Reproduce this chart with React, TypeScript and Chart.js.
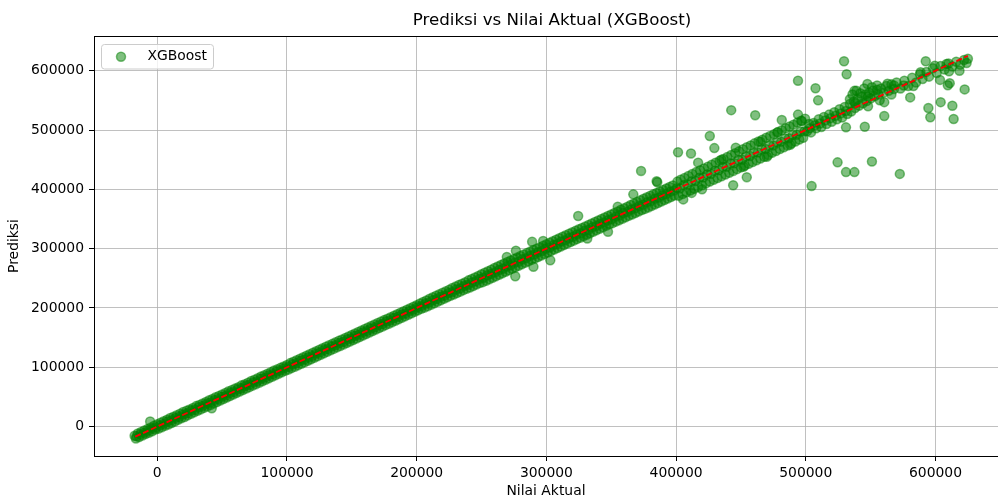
import React, { useEffect, useRef } from "react";
import { Chart, registerables } from "chart.js";

Chart.register(...registerables);

const TITLE = "Prediksi vs Nilai Aktual (XGBoost)";
const X_LABEL = "Nilai Aktual";
const Y_LABEL = "Prediksi";
const SERIES_NAME = "XGBoost";

const xTicks = [0, 100000, 200000, 300000, 400000, 500000, 600000];
const yTicks = [0, 100000, 200000, 300000, 400000, 500000, 600000];
const xRange = [-48800, 648200];
const yRange = [-49600, 658500];
const idealLine = [-17000, 625000];

// [actual, predicted]
const bandA: [number, number][] = [
  [-17500, -15500], [-16500, -20000], [-15000, -11500], [-14000, -17500], [-12500, -9000], [-11500, -15000],
  [-10000, -6500], [-9000, -12500], [-7500, -4000], [-6500, -10500], [-5500, 8500], [-5000, -1500],
  [-4000, -8000], [-2500, 1500], [-1500, -5000], [0, 4000], [1000, -3500], [2500, 6500], [3500, -1000],
  [5000, 9000], [6000, 1500], [7500, 11500], [8500, 3500], [10000, 14500], [11000, 6000], [12500, 16500],
  [13500, 8500], [15000, 19000], [16000, 11500], [17500, 21500], [18500, 14000], [20000, 24500],
  [21000, 16000], [22500, 26500], [23500, 19000], [25000, 29000], [26000, 21500], [27500, 31500],
  [28500, 24000], [30000, 34500], [31000, 26500], [32500, 36500], [33500, 29000], [35000, 39000],
  [36000, 31500], [37500, 41500], [38500, 34000], [40000, 44500], [41000, 36500], [42000, 31000],
  [42500, 46500], [43500, 39000], [45000, 49500], [46000, 41500], [47500, 51500], [48500, 44000],
  [50000, 54000], [51000, 46500], [52500, 56500], [53500, 49000], [55000, 59500], [56000, 51500],
  [57500, 61500], [58500, 54000], [60000, 64000], [61000, 56500], [62500, 66500], [63500, 59000],
  [65000, 69500], [66000, 61500], [67500, 71500], [68500, 64000], [70000, 74000], [71000, 66500],
  [72500, 77000], [73500, 69000], [75000, 79000], [76000, 71500], [77500, 81500], [78500, 74000],
  [80000, 84500], [81000, 76500], [82500, 86500], [83500, 79000], [85000, 89000], [86000, 81500],
  [87500, 91500], [88500, 84000], [90000, 94500], [91000, 86500], [92500, 96500], [93500, 89000],
  [95000, 99000], [96000, 91500], [97500, 101500], [98500, 94000], [100000, 104000],
];

const centerA: [number, number][] = [
  [-16000, -16500], [-13000, -13000], [-10000, -10500], [-7000, -7000], [-4000, -3500], [-1000, -1500],
  [2000, 2000], [5000, 4500], [8000, 8500], [11000, 10500], [14000, 14500], [17000, 16500], [20000, 20500],
  [23000, 22500], [26000, 26500], [29000, 28500], [32000, 32500], [35000, 34500], [38000, 38500],
  [41000, 40500], [44000, 44500], [47000, 46500], [50000, 50500], [53000, 52500], [56000, 56500],
  [59000, 58500], [62000, 62500], [65000, 64500], [68000, 68500], [71000, 70500], [74000, 74500],
  [77000, 76500], [80000, 80500], [83000, 82500], [86000, 86500], [89000, 88500], [92000, 92500],
  [95000, 94500], [98000, 98500],
];

const bandB: [number, number][] = [
  [101000, 96000], [102500, 107000], [103500, 98500], [105000, 109500], [106000, 101000], [107500, 112000],
  [108500, 103500], [110000, 114500], [111000, 106000], [112500, 117000], [113500, 108500], [115000, 119500],
  [116000, 111000], [117500, 122000], [118500, 113500], [120000, 124500], [121000, 116000], [122500, 127000],
  [123500, 118500], [125000, 129500], [126000, 121000], [127500, 132000], [128500, 123500], [130000, 134500],
  [131000, 126000], [132500, 137000], [133500, 128500], [135000, 139500], [136000, 131000], [137500, 142000],
  [138500, 133500], [140000, 144500], [141000, 136000], [142500, 147000], [143500, 138500], [145000, 149500],
  [146000, 141000], [147500, 152000], [148500, 143500], [150000, 154500], [151000, 146000], [152500, 157000],
  [153500, 148500], [155000, 159500], [156000, 151000], [157500, 162000], [158500, 153500], [160000, 164500],
  [161000, 156000], [162500, 167000], [163500, 158500], [165000, 169500], [166000, 161000], [167500, 172000],
  [168500, 163500], [170000, 174500], [171000, 166000], [172500, 177000], [173500, 168500], [175000, 179500],
  [176000, 171000], [177500, 182000], [178500, 173500], [180000, 184500], [181000, 176000], [182500, 187000],
  [183500, 178500], [185000, 189500], [186000, 181000], [187500, 192000], [188500, 183500], [190000, 194500],
  [191000, 186000], [192500, 197000], [193500, 188500], [195000, 199500], [196000, 191000], [197500, 202000],
  [198500, 193500], [200000, 204500], [201000, 196000], [202500, 207500], [203500, 198500], [205000, 210000],
  [206000, 200500], [207500, 212500], [208500, 203000], [210000, 215500], [211000, 205500], [212500, 218000],
  [213500, 208000], [215000, 220500], [216000, 210500], [217500, 223000], [218500, 213000], [220000, 225500],
  [221000, 215500], [222500, 228000], [223500, 218000], [225000, 230500], [226000, 220500], [227500, 233500],
  [228500, 222500], [230000, 236000], [231000, 225000], [232500, 238500], [233500, 227500], [235000, 241000],
  [236000, 230000], [237500, 243500], [238500, 232500], [240000, 246500], [241000, 234500], [242500, 249000],
  [243500, 237000], [245000, 251500], [246000, 239500], [247500, 254000], [248500, 242000],
];

const centerB: [number, number][] = [
  [101500, 101000], [104500, 105000], [107500, 107000], [110500, 111000], [113500, 113000], [116500, 117000],
  [119500, 119000], [122500, 123000], [125500, 125000], [128500, 129000], [131500, 131000], [134500, 135000],
  [137500, 137000], [140500, 141000], [143500, 143000], [146500, 147000], [149500, 149000], [152500, 153000],
  [155500, 155000], [158500, 159000], [161500, 161000], [164500, 165000], [167500, 167000], [170500, 171000],
  [173500, 173000], [176500, 177000], [179500, 179000], [182500, 183000], [185500, 185000], [188500, 189000],
  [191500, 191000], [194500, 195000], [197500, 197000], [200500, 201000], [203500, 203000], [206500, 207000],
  [209500, 209000], [212500, 213000], [215500, 215000], [218500, 219000], [221500, 221000], [224500, 225000],
  [227500, 227000], [230500, 231000], [233500, 233000], [236500, 237000], [239500, 239000], [242500, 243000],
  [245500, 245000], [248500, 249000],
];

const bandC: [number, number][] = [
  [250000, 257000], [251000, 243500], [252500, 259500], [253500, 246000], [255000, 262000], [256000, 248500],
  [257500, 264500], [258500, 251000], [260000, 267500], [261000, 253500], [262500, 270000], [263500, 256000],
  [265000, 272500], [266000, 258500], [267500, 275000], [268500, 261000], [270000, 277500], [271000, 263500],
  [272500, 280000], [273500, 266000], [275000, 282500], [276000, 268500], [277500, 285000], [278500, 271000],
  [280000, 287500], [281000, 273500], [282500, 290000], [283500, 276000], [285000, 292500], [286000, 278500],
  [287500, 295000], [288500, 281000], [290000, 297500], [291000, 283500], [292500, 300000], [293500, 286000],
  [295000, 302500], [296000, 288500], [297500, 305000], [298500, 291000], [300000, 307500], [301000, 293500],
  [302500, 310000], [303500, 296000], [305000, 312500], [306000, 298500], [307500, 315000], [308500, 301000],
  [310000, 317500], [311000, 303500], [312500, 320000], [313500, 306000], [315000, 322500], [316000, 308500],
  [317500, 325000], [318500, 311000], [320000, 327500], [321000, 313500], [322500, 330000], [323500, 316000],
  [325000, 332500], [326000, 318500], [327500, 335000], [328500, 321000], [330000, 337500], [331000, 323500],
  [332500, 340000], [333500, 326000], [335000, 342500], [336000, 328500], [337500, 345000], [338500, 331000],
  [340000, 347500], [341000, 333500], [342500, 350000], [343500, 336000], [345000, 352500], [346000, 338500],
  [347500, 355000], [348500, 341000], [350000, 357500], [351000, 343000], [352500, 360000], [353500, 345500],
  [355000, 362500], [356000, 348000], [357500, 365500], [358500, 350500], [360000, 368000], [361000, 353000],
  [362500, 370500], [363500, 355500], [365000, 373500], [366000, 357500], [367500, 376000], [368500, 360000],
  [370000, 378500], [371000, 362500], [372500, 381500], [373500, 365000], [375000, 384000], [376000, 367000],
  [377500, 386500], [378500, 369500], [380000, 389000], [381000, 372000], [382500, 391500], [383500, 374500],
  [385000, 394000], [386000, 377000], [387500, 396500], [388500, 379500], [390000, 399000], [391000, 382000],
  [392500, 401500], [393500, 384500], [395000, 404000], [396000, 387000], [397500, 406500], [398500, 389500],
];

const centerC: [number, number][] = [
  [251500, 251000], [254500, 255000], [257500, 257500], [260500, 260000], [263500, 264000], [266500, 266000],
  [269500, 270000], [272500, 272000], [275500, 276000], [278500, 278000], [281500, 282000], [284500, 284000],
  [287500, 288000], [290500, 290000], [293500, 294000], [296500, 296000], [299500, 300000], [302500, 302000],
  [305500, 306000], [308500, 308000], [311500, 312000], [314500, 314000], [317500, 318000], [320500, 320000],
  [323500, 324000], [326500, 326000], [329500, 330000], [332500, 332000], [335500, 336000], [338500, 338000],
  [341500, 342000], [344500, 344000], [347500, 348000], [350500, 350000], [353500, 354000], [356500, 356000],
  [359500, 360000], [362500, 362000], [365500, 366000], [368500, 368000], [371500, 372000], [374500, 374000],
  [377500, 378000], [380500, 380000], [383500, 384000], [386500, 386000], [389500, 390000], [392500, 392000],
  [395500, 396000], [398500, 398000],
];

const scatterC: [number, number][] = [
  [269500, 286000], [276500, 296500], [276000, 253500], [289000, 311500], [297500, 313000], [290000, 269500],
  [303000, 280500], [324500, 355000], [331500, 317000], [347500, 328500], [355000, 370500], [367000, 391500],
  [373000, 431000], [385000, 413500], [385500, 412000],
];

const bandD: [number, number][] = [
  [401000, 413000], [402000, 389000], [403500, 416000], [405000, 392000], [406500, 419000], [408000, 395000],
  [409500, 422500], [411000, 398000], [412500, 426000], [414000, 401000], [415500, 429000], [417000, 404000],
  [418500, 432000], [420000, 407000], [421500, 435000], [423000, 410000], [424500, 438000], [426000, 413000],
  [427500, 441500], [429000, 416000], [430500, 445000], [432000, 419000], [433500, 448000], [435000, 422000],
  [436500, 451000], [438000, 425000], [439500, 454500], [441000, 428000], [442500, 458000], [444000, 431000],
  [445500, 461000], [447000, 434000], [448500, 464000], [450000, 437000], [451500, 467500], [453000, 440000],
  [454500, 471000], [456000, 443000], [457500, 474000], [459000, 446000], [460500, 477500], [462000, 449000],
  [463500, 480500], [465000, 452000], [466500, 483500], [468000, 455000], [469500, 487000], [471000, 458000],
  [472500, 490000], [474000, 461500], [475500, 493000], [477000, 464500], [478500, 496500], [480000, 468000],
  [481500, 499500], [483000, 471000], [484500, 503000], [486000, 474000], [487500, 506000], [489000, 477500],
  [490500, 509000], [492000, 480500], [493500, 512500], [495000, 484000], [496500, 515500], [498000, 487000],
  [499500, 519000],
];

const centerD: [number, number][] = [
  [400500, 402000], [403000, 401500], [406000, 407500], [409000, 408000], [412000, 413500], [415000, 414000],
  [418000, 419500], [421000, 420000], [424000, 425500], [427000, 426000], [430000, 431500], [433000, 432000],
  [436000, 437500], [439000, 438000], [442000, 443500], [445000, 444000], [448000, 449500], [451000, 450000],
  [454000, 455500], [457000, 456000], [460000, 461500], [463000, 462000], [466000, 467500], [469000, 468000],
  [472000, 473500], [475000, 474000], [478000, 479500], [481000, 480000], [484000, 485500], [487000, 486000],
  [490000, 491500], [493000, 492000], [496000, 497500], [499000, 498000],
];

const scatterD: [number, number][] = [
  [401500, 462500], [411500, 460500], [417000, 445000], [426000, 490000], [429500, 469500], [405500, 383000],
  [412000, 394000], [442500, 533500], [461000, 525000], [444000, 407000], [454500, 420500], [481500, 517000],
  [494000, 526000], [494000, 583000], [507500, 570500], [509500, 550000], [504500, 405500], [420000, 400000],
  [435000, 450000], [446000, 470000], [452000, 438000], [465000, 480000], [470000, 455000], [478000, 496000],
  [488000, 475000], [497000, 515000],
];

const bandE: [number, number][] = [
  [501000, 498000], [502500, 510000], [504000, 496000], [506000, 512000], [508000, 503000], [510000, 518000],
  [512000, 505000], [514000, 522000], [516000, 510000], [518000, 526000], [520000, 514000], [522000, 530000],
  [524000, 518000], [526000, 535000], [528000, 521000], [530000, 539000], [532000, 527000], [534000, 544000],
  [535000, 531000], [537000, 548000], [538000, 537000], [540000, 552000], [541000, 541000], [543000, 556000],
  [544000, 545000], [546000, 560000], [547000, 549000], [549000, 563000], [550000, 553000], [552000, 566000],
  [553000, 557000], [555000, 568000], [556000, 560000], [558000, 570000], [560000, 563000], [562000, 574000],
  [564000, 566000], [566000, 577000], [568000, 569000], [570000, 580000], [573000, 570000], [576000, 583000],
  [579000, 574000], [582000, 588000], [585000, 580000], [588000, 594000], [590000, 586000], [593000, 598000],
  [595000, 590000], [598000, 604000], [601000, 596000], [604000, 608000], [607000, 602000], [610000, 612000],
  [613000, 607000], [616000, 615000], [619000, 610000], [622000, 618000], [625000, 620000], [624000, 613000],
  [534000, 552000], [536000, 560000], [539000, 566000], [542000, 562000], [545000, 570000], [548000, 556000],
  [551000, 572000], [555000, 575000], [538000, 545000], [548000, 540000], [557000, 550000], [563000, 578000],
  [566000, 560000], [568000, 575000], [503000, 503000], [507000, 508000], [511000, 511000], [515000, 516000],
  [519000, 520000], [523000, 524000], [527000, 528000], [531000, 532000],
];

const scatterE: [number, number][] = [
  [529500, 616000], [531500, 594000], [524500, 445500], [531000, 429000], [537500, 429000], [551000, 447000],
  [572500, 426000], [531000, 504500], [545500, 505500], [560500, 523500], [580500, 555000], [594500, 537000],
  [596000, 521500], [604000, 547000], [613000, 541000], [614000, 518500], [622500, 568500], [592500, 616000],
  [599500, 608500], [608500, 611500], [618500, 600000], [610500, 599000], [603500, 584500], [611000, 579000],
  [609500, 575500], [588500, 597500], [583000, 574000], [547500, 577500], [537500, 566000], [560500, 547000],
  [575500, 575000],
];

const FONT = "'DejaVu Sans', sans-serif";
const POINT_COLOR = "rgba(0,128,0,0.5)";

const frameAndTitle = {
  id: "frameAndTitle",
  afterDraw(chart: any) {
    const { ctx, chartArea } = chart;
    const { left, right, top } = chartArea;
    ctx.save();
    ctx.strokeStyle = "#000";
    ctx.lineWidth = 1;
    ctx.beginPath();
    ctx.moveTo(left, Math.round(top) + 0.5);
    ctx.lineTo(right, Math.round(top) + 0.5);
    ctx.stroke();
    ctx.fillStyle = "#000";
    ctx.font = `16.7px ${FONT}`;
    ctx.textAlign = "center";
    ctx.textBaseline = "middle";
    ctx.fillText(TITLE, 552, 21);
    const bx = 101.5, by = 44.5, bw = 112, bh = 24.5, r = 3;
    ctx.beginPath();
    ctx.moveTo(bx + r, by);
    ctx.lineTo(bx + bw - r, by);
    ctx.quadraticCurveTo(bx + bw, by, bx + bw, by + r);
    ctx.lineTo(bx + bw, by + bh - r);
    ctx.quadraticCurveTo(bx + bw, by + bh, bx + bw - r, by + bh);
    ctx.lineTo(bx + r, by + bh);
    ctx.quadraticCurveTo(bx, by + bh, bx, by + bh - r);
    ctx.lineTo(bx, by + r);
    ctx.quadraticCurveTo(bx, by, bx + r, by);
    ctx.closePath();
    ctx.fillStyle = "rgba(255,255,255,0.8)";
    ctx.fill();
    ctx.strokeStyle = "#cccccc";
    ctx.stroke();
    ctx.beginPath();
    ctx.arc(121, 56.7, 4.5, 0, Math.PI * 2);
    ctx.fillStyle = POINT_COLOR;
    ctx.fill();
    ctx.lineWidth = 1.5;
    ctx.strokeStyle = POINT_COLOR;
    ctx.stroke();
    ctx.fillStyle = "#000";
    ctx.font = `13.9px ${FONT}`;
    ctx.textAlign = "left";
    ctx.textBaseline = "middle";
    ctx.fillText(SERIES_NAME, 147.5, 56.5);
    ctx.restore();
  },
};

export default function App() {
  const ref = useRef<HTMLCanvasElement | null>(null);
  useEffect(() => {
    if (!ref.current) return;
    Chart.defaults.font.family = FONT;
    const toPts = (arr: [number, number][]) => arr.map(([x, y]) => ({ x, y }));
    const allPts = [
      ...toPts(bandA), ...toPts(centerA), ...toPts(bandB), ...toPts(centerB),
      ...toPts(bandC), ...toPts(centerC), ...toPts(scatterC),
      ...toPts(bandD), ...toPts(centerD), ...toPts(scatterD), ...toPts(bandE), ...toPts(scatterE),
    ];
    const chart = new Chart(ref.current, {
      type: "scatter",
      data: {
        datasets: [
          {
            type: "line",
            label: "ideal",
            data: [
              { x: idealLine[0], y: idealLine[0] },
              { x: idealLine[1], y: idealLine[1] },
            ],
            borderColor: "red",
            borderWidth: 1.8,
            borderDash: [6, 2.6],
            pointRadius: 0,
            fill: false,
            order: 0,
          } as any,
          {
            label: SERIES_NAME,
            data: allPts,
            backgroundColor: POINT_COLOR,
            borderColor: POINT_COLOR,
            borderWidth: 1.5,
            pointRadius: 4.5,
            pointHoverRadius: 4.5,
            order: 1,
          },
        ],
      },
      options: {
        responsive: false,
        animation: false,
        devicePixelRatio: 1,
        layout: { autoPadding: false, padding: { top: 36, right: 0, left: 0, bottom: 0 } },
        plugins: { legend: { display: false }, tooltip: { enabled: false }, title: { display: false } },
        scales: {
          x: {
            type: "linear",
            min: xRange[0],
            max: xRange[1],
            afterBuildTicks: (scale: any) => { scale.ticks = xTicks.map((v) => ({ value: v })); },
            afterFit: (scale: any) => {
              scale.height = 41;
              scale.paddingLeft = 0;
              scale.paddingRight = 0;
            },
            grid: { color: "#b0b0b0", lineWidth: 0.8, tickLength: 5, tickColor: "#000", tickWidth: 1 },
            border: { display: true, color: "#000", width: 1 },
            ticks: { autoSkip: false, maxRotation: 0, padding: 4, color: "#000", font: { size: 13.9 }, callback: (v: any) => String(v) },
            title: { display: true, text: X_LABEL, color: "#000", font: { size: 13.9 }, padding: { top: 0, bottom: -2.5 } },
          },
          y: {
            type: "linear",
            min: yRange[0],
            max: yRange[1],
            afterBuildTicks: (scale: any) => { scale.ticks = yTicks.map((v) => ({ value: v })); },
            afterFit: (scale: any) => {
              scale.width = 94;
              scale.paddingTop = 0;
              scale.paddingBottom = 0;
            },
            grid: { color: "#b0b0b0", lineWidth: 0.8, tickLength: 5, tickColor: "#000", tickWidth: 1 },
            border: { display: true, color: "#000", width: 1 },
            ticks: { autoSkip: false, padding: 5, color: "#000", font: { size: 13.9 }, callback: (v: any) => String(v) },
            title: { display: true, text: Y_LABEL, color: "#000", font: { size: 13.9 }, padding: { top: 5.7, bottom: 0 } },
          },
        },
      },
      plugins: [frameAndTitle],
    });
    return () => chart.destroy();
  }, []);
  return (
    <div style={{ position: "fixed", left: 0, top: 0, width: 998, height: 497, background: "#fff" }}>
      <canvas ref={ref} width={998} height={497} style={{ width: 998, height: 497, display: "block" }} />
    </div>
  );
}
